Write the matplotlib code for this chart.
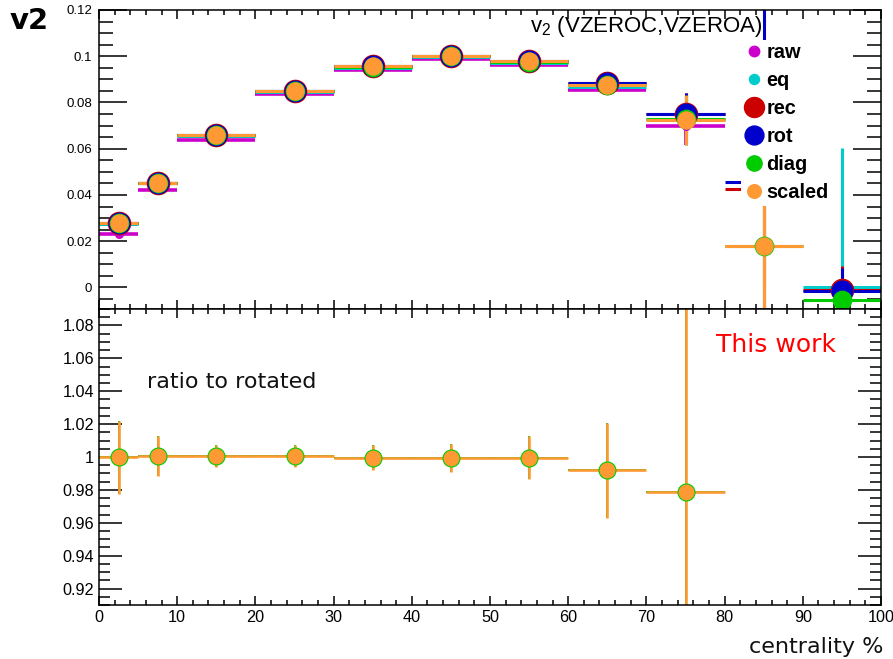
import numpy as np
import matplotlib
matplotlib.use("Agg")
import matplotlib.pyplot as plt
from matplotlib.ticker import MultipleLocator, FuncFormatter
from matplotlib.lines import Line2D

plt.rcParams['font.family'] = ['Liberation Sans', 'DejaVu Sans']
plt.rcParams['mathtext.fontset'] = 'custom'
plt.rcParams['mathtext.rm'] = 'Liberation Sans'
plt.rcParams['mathtext.it'] = 'Liberation Sans:italic'
plt.rcParams['mathtext.bf'] = 'Liberation Sans:bold'

nan = np.nan
# centrality bin edges (%)
edges = [0, 5, 10, 20, 30, 40, 50, 60, 70, 80, 90, 100]

# v2 per method
raw_v = [0.0232, 0.0420, 0.0638, 0.0836, 0.0942, 0.0990, 0.0964, 0.0852, 0.0700, nan, nan]
raw_e = [0.0010, 0.0008, 0.0006, 0.0006, 0.0006, 0.0007, 0.0008, 0.0015, 0.0085, nan, nan]
eq_v = [0.0275, 0.0450, 0.0654, 0.0845, 0.0950, 0.0997, 0.0972, 0.0869, 0.0727, nan, 0.0003]
eq_e = [0.0008, 0.0007, 0.0006, 0.0006, 0.0006, 0.0007, 0.0008, 0.0015, 0.0110, nan, 0.0600]
rec_v = [0.0278, 0.0452, 0.0658, 0.0848, 0.0956, 0.1002, 0.0978, 0.0883, 0.0750, 0.0428, -0.0012]
rec_e = [0.0008, 0.0007, 0.0006, 0.0006, 0.0006, 0.0007, 0.0008, 0.0015, 0.0090, 0.0600, 0.0105]
rot_v = [0.0278, 0.0452, 0.0658, 0.0848, 0.0956, 0.1002, 0.0978, 0.0883, 0.0752, 0.0455, -0.0014]
rot_e = [0.0008, 0.0007, 0.0006, 0.0006, 0.0006, 0.0007, 0.0008, 0.0015, 0.0090, 0.0900, 0.0098]
diag_v = [0.0278, 0.0452, 0.0658, 0.0848, 0.0955, 0.1002, 0.0977, 0.0876, 0.0730, 0.0181, -0.0053]
diag_e = [0.0008, 0.0007, 0.0006, 0.0006, 0.0006, 0.0007, 0.0008, 0.0015, 0.0100, 0.0174, 0.0080]
scaled_v = [0.0279, 0.0453, 0.0659, 0.0849, 0.0956, 0.1003, 0.0978, 0.0876, 0.0725, 0.0181, nan]
scaled_e = [0.0008, 0.0007, 0.0006, 0.0006, 0.0006, 0.0007, 0.0008, 0.0015, 0.0107, 0.0600, nan]

# ratio to rotated
ratio_diag_v = [0.9998, 1.0006, 1.0006, 1.0006, 0.9996, 0.9996, 0.9996, 0.9918, 0.9789]
ratio_diag_e = [0.0220, 0.0120, 0.0068, 0.0068, 0.0075, 0.0085, 0.0130, 0.0290, 0.1500]
ratio_scaled_v = [0.9998, 1.0006, 1.0006, 1.0006, 0.9996, 0.9996, 0.9996, 0.9918, 0.9789]
ratio_scaled_e = [0.0220, 0.0120, 0.0068, 0.0068, 0.0075, 0.0085, 0.0130, 0.0290, 0.1500]

names = ["raw", "eq", "rec", "rot", "diag", "scaled"]
colors = ["#cc00cc", "#00cccc", "#cc0000", "#0000cc", "#00cc00", "#ff9933"]

edges_a = np.array(edges, float)
centers = 0.5 * (edges_a[1:] + edges_a[:-1])
halfw = 0.5 * (edges_a[1:] - edges_a[:-1])

fig = plt.figure(figsize=(8.93, 6.59), dpi=100)
W, H = 893.0, 659.0
ax1 = fig.add_axes([99 / W, 1 - 309 / H, 782 / W, 299 / H])
ax2 = fig.add_axes([99 / W, 1 - 605 / H, 782 / W, 296 / H])

series = [
    (raw_v, raw_e, 5.5, 2.6),
    (eq_v, eq_e, 5.5, 2.2),
    (rec_v, rec_e, 16.0, 2.2),
    (rot_v, rot_e, 14.8, 2.2),
    (diag_v, diag_e, 13.2, 2.2),
    (scaled_v, scaled_e, 12.2, 2.2),
]
for i, ((v, e, ms, lw), c) in enumerate(zip(series, colors)):
    v = np.array(v, float)
    e = np.array(e, float)
    m = ~np.isnan(v)
    ax1.errorbar(centers[m], v[m], yerr=e[m], xerr=halfw[m], fmt='o', color=c,
                 mec=c, ms=ms, lw=lw, capsize=0, zorder=2 + 0.01 * i)

def fmt(v, pos):
    s = f"{v:.2f}".rstrip('0').rstrip('.')
    if s in ("-0", "-0."):
        s = "0"
    return s

for ax in (ax1, ax2):
    ax.set_xlim(0, 100)
    ax.xaxis.set_major_locator(MultipleLocator(10))
    ax.xaxis.set_minor_locator(MultipleLocator(2))
    ax.yaxis.set_minor_locator(MultipleLocator(0.005))
    ax.yaxis.set_major_formatter(FuncFormatter(fmt))
    ax.tick_params(axis='both', which='both', direction='in', top=True, right=True,
                   width=1.1, colors='black')
    ax.tick_params(axis='x', which='major', length=6.5)
    ax.tick_params(axis='x', which='minor', length=3.3)
    for s in ax.spines.values():
        s.set_linewidth(1.1)

ax1.set_ylim(-0.0093, 0.12)
ax1.yaxis.set_major_locator(MultipleLocator(0.02))
ax1.tick_params(axis='y', which='major', length=20, labelsize=9.5, pad=5)
ax1.tick_params(axis='y', which='minor', length=10)
ax1.tick_params(labelbottom=False)

ax2.set_ylim(0.91, 1.09)
ax2.yaxis.set_major_locator(MultipleLocator(0.02))
ax2.tick_params(axis='y', which='major', length=16.5, labelsize=11.7, pad=3.6)
ax2.tick_params(axis='y', which='minor', length=8)
ax2.tick_params(axis='x', labelsize=11.7, pad=3.6)

# ratio panel
for v, e, c, ms, lw in [(ratio_diag_v, ratio_diag_e, colors[4], 12.0, 1.4),
                        (ratio_scaled_v, ratio_scaled_e, colors[5], 10.4, 1.9)]:
    n = len(v)
    ax2.errorbar(centers[:n], v, yerr=e, xerr=halfw[:n], fmt='o', color=c, mec=c,
                 ms=ms, lw=lw, capsize=0)

# legend
leg_ms = [7.5, 7.2, 14.4, 13.6, 11.0, 9.8]
handles = [Line2D([], [], marker='o', linestyle='none', color=c, mec=c, markersize=s)
           for c, s in zip(colors, leg_ms)]
leg = ax1.legend(handles, names, loc='upper left', bbox_to_anchor=(0.821, 0.8997),
                 frameon=True, facecolor='white', edgecolor='none', framealpha=1,
                 fancybox=False, borderpad=0.17, handlelength=1.0, handletextpad=0.1,
                 labelspacing=0.45, borderaxespad=0, numpoints=1,
                 prop=dict(family='Liberation Sans', weight='bold', size=14.4))

fig.text(763 / W, 1 - 32 / H, r'v$_\mathrm{2}$ (VZEROC,VZEROA)', ha='right',
         va='baseline', fontsize=16)
fig.text(10 / W, 1 - 29 / H, 'v2', ha='left', va='baseline', fontsize=21,
         fontweight='bold', family='DejaVu Sans')
fig.text(147 / W, 1 - 388 / H, 'ratio to rotated', ha='left', va='baseline',
         fontsize=16, family='DejaVu Sans', color='#111111')
fig.text(716 / W, 1 - 351.7 / H, 'This work', ha='left', va='baseline',
         fontsize=18, family='DejaVu Sans', color='#ff0000')
fig.text(883 / W, 1 - 652.7 / H, 'centrality %', ha='right', va='baseline',
         fontsize=16, family='DejaVu Sans', color='#111111')

fig.savefig('out.png', dpi=100)
